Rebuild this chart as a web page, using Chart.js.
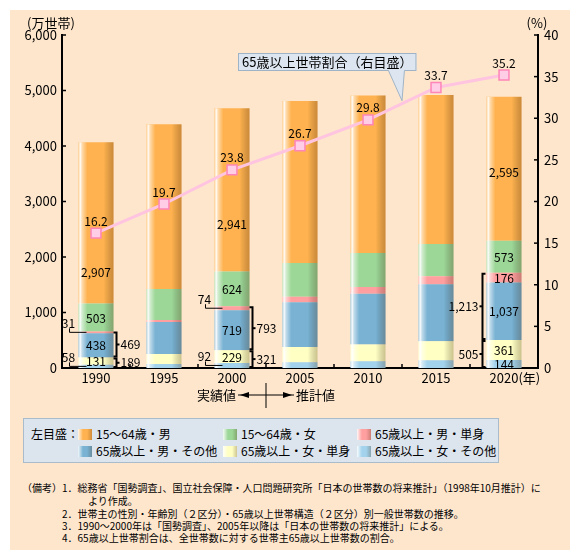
<!DOCTYPE html>
<html>
<head>
<meta charset="UTF-8">
<title>世帯数の推移</title>
<script src="https://cdn.jsdelivr.net/npm/chart.js@4/dist/chart.umd.min.js"></script>
<style>
  body { margin: 0; background: #fff; font-family: "Noto Sans CJK JP", sans-serif; }
  #panel { position: absolute; left: 10px; top: 10px; width: 560px; height: 540px; background: #fee6cd; }
  #chartBox { position: absolute; left: 0; top: 0; width: 560px; height: 400px; }
  #legend { position: absolute; left: 13px; top: 408px; width: 476px; height: 45px; box-sizing: border-box;
            background: #dce4ee; border: 1px solid #a9bccb; font-size: 12px; }
  #legend span { position: absolute; white-space: nowrap; line-height: 14px; }
  #legend i { position: absolute; width: 14px; height: 11px; }
  .note { position: absolute; font-size: 10px; line-height: 12px; white-space: nowrap; color: #000; }
</style>
</head>
<body>
<div id="panel">
  <div id="chartBox"><canvas id="myChart" width="560" height="400"></canvas></div>
  <div id="legend"><span style="left:7px;top:8px">左目盛：</span></div>
  <div class="note" style="left:12px;top:472px">（備考）1．総務省「国勢調査」、国立社会保障・人口問題研究所「日本の世帯数の将来推計」（1998年10月推計）に</div>
  <div class="note" style="left:78px;top:485px">より作成。</div>
  <div class="note" style="left:52px;top:498px">2．世帯主の性別・年齢別（２区分）・65歳以上世帯構造（２区分）別一般世帯数の推移。</div>
  <div class="note" style="left:52px;top:510px">3．1990～2000年は「国勢調査」、2005年以降は「日本の世帯数の将来推計」による。</div>
  <div class="note" style="left:52px;top:522px">4．65歳以上世帯割合は、全世帯数に対する世帯主65歳以上世帯数の割合。</div>
</div>

<script>
// ---- data (万世帯 / %) ----
const years = ['1990', '1995', '2000', '2005', '2010', '2015', '2020'];
const female65Other  = [58, 72, 92, 105, 120, 140, 144];     // 65歳以上・女・その他
const female65Single = [131, 180, 229, 275, 305, 340, 361];  // 65歳以上・女・単身
const male65Other    = [438, 577, 719, 805, 915, 1030, 1037];// 65歳以上・男・その他
const male65Single   = [31, 36, 74, 100, 120, 145, 176];     // 65歳以上・男・単身
const female1564     = [503, 558, 624, 605, 610, 580, 573];  // 15～64歳・女
const male1564       = [2907, 2967, 2941, 2920, 2840, 2685, 2595]; // 15～64歳・男
const share65        = [16.2, 19.7, 23.8, 26.7, 29.8, 33.7, 35.2]; // 65歳以上世帯割合（右目盛）

const seriesNames = ['65歳以上・女・その他', '65歳以上・女・単身', '65歳以上・男・その他',
                     '65歳以上・男・単身', '15～64歳・女', '15～64歳・男'];
const seriesColors = ['#a3d3ec', '#ffffc3', '#79b2d3', '#ff9f9f', '#9dd797', '#ffb24f'];
const labelledYears = ['1990', '2000', '2020'];
const firstForecast = '2005';
const bracketGroups = [[0, 1], [2, 3]];

const barData = [female65Other, female65Single, male65Other, male65Single, female1564, male1564];
const LINE = barData.length;
const FONT = '"Noto Sans CJK JP", "Noto Sans", sans-serif';
const fmt = v => v.toLocaleString('en-US');

// legend (HTML, top series first)
(function () {
  const lg = document.getElementById('legend');
  const cols = [54, 199, 333];
  barData.map((_, k) => k).reverse().forEach((k, n) => {
    const left = cols[n % 3], top = n < 3 ? 9 : 26;
    const sw = document.createElement('i');
    sw.style.left = left + 'px'; sw.style.top = (top + 1) + 'px';
    sw.style.background = 'linear-gradient(to right, rgba(255,255,255,0.9), rgba(255,255,255,0) 35%, rgba(0,0,0,0) 65%, rgba(60,30,0,0.25)), ' + seriesColors[k];
    lg.appendChild(sw);
    const tx = document.createElement('span');
    tx.textContent = seriesNames[k];
    tx.style.left = (left + 18) + 'px'; tx.style.top = (top - 1) + 'px';
    lg.appendChild(tx);
  });
})();

function txt(ctx, s, x, y, size, align) {
  ctx.font = size + 'px ' + FONT;
  ctx.fillStyle = '#000';
  ctx.textAlign = align || 'center';
  ctx.textBaseline = 'middle';
  ctx.fillText(s, x, y);
}
function seg(ctx, pts) {
  ctx.beginPath();
  ctx.moveTo(pts[0][0], pts[0][1]);
  for (let i = 1; i < pts.length; i++) ctx.lineTo(pts[i][0], pts[i][1]);
  ctx.stroke();
}

const decor = {
  id: 'decor',
  beforeDatasetDraw(chart, args) {
    if (args.index !== LINE) return;
    // cylinder-like shading over each stacked column
    const ctx = chart.ctx;
    const bottomMeta = chart.getDatasetMeta(0), topMeta = chart.getDatasetMeta(LINE - 1);
    bottomMeta.data.forEach((bar, i) => {
      const l = bar.x - bar.width / 2, w = bar.width;
      const yTop = topMeta.data[i].y, yBot = bar.base;
      const g = ctx.createLinearGradient(l, 0, l + w, 0);
      g.addColorStop(0, 'rgba(255,255,255,0.4)');
      g.addColorStop(0.05, 'rgba(255,255,255,0.95)');
      g.addColorStop(0.1, 'rgba(255,255,255,0.55)');
      g.addColorStop(0.25, 'rgba(255,255,255,0)');
      g.addColorStop(0.72, 'rgba(0,0,0,0)');
      g.addColorStop(1, 'rgba(70,35,0,0.28)');
      ctx.save();
      ctx.fillStyle = g;
      ctx.fillRect(l, yTop, w, yBot - yTop);
      ctx.restore();
    });
  },
  afterDatasetsDraw(chart) {
    const ctx = chart.ctx, ca = chart.chartArea;
    const xs = chart.scales.x, ys = chart.scales.y, y2 = chart.scales.y2;
    const lineMeta = chart.getDatasetMeta(LINE);
    ctx.save();
    ctx.strokeStyle = '#000';

    // inward ticks
    ctx.lineWidth = 1.5;
    ys.ticks.forEach(t => { const p = ys.getPixelForValue(t.value); seg(ctx, [[ca.left, p], [ca.left + 4, p]]); });
    y2.ticks.forEach(t => { const p = y2.getPixelForValue(t.value); seg(ctx, [[ca.right - 4, p], [ca.right, p]]); });
    for (let i = 0; i < years.length - 1; i++) {
      const b = (xs.getPixelForValue(i) + xs.getPixelForValue(i + 1)) / 2;
      seg(ctx, [[b, ca.bottom], [b, ca.bottom - 4]]);
    }

    // unit labels
    txt(ctx, '(万世帯)', ca.left - 11, 13, 13);
    txt(ctx, '(%)', ca.right - 1, 13, 13);
    const lastX = xs.getPixelForValue(years.length - 1);
    ctx.font = '13px ' + FONT;
    txt(ctx, '(年)', lastX + ctx.measureText(years[years.length - 1]).width / 2, ca.bottom + 10, 13, 'left');

    // 実績値 / 推計値
    const fi = years.indexOf(firstForecast);
    const dx = (xs.getPixelForValue(fi - 1) + xs.getPixelForValue(fi)) / 2;
    const ay = ca.bottom + 27;
    ctx.lineWidth = 1;
    seg(ctx, [[dx, ca.bottom + 15], [dx, ca.bottom + 40]]);
    seg(ctx, [[dx - 28, ay], [dx + 28, ay]]);
    ctx.fillStyle = '#000';
    ctx.beginPath(); ctx.moveTo(dx - 26, ay); ctx.lineTo(dx - 17, ay - 3); ctx.lineTo(dx - 17, ay + 3); ctx.fill();
    ctx.beginPath(); ctx.moveTo(dx + 26, ay); ctx.lineTo(dx + 17, ay - 3); ctx.lineTo(dx + 17, ay + 3); ctx.fill();
    txt(ctx, '実績値', dx - 30, ay, 13, 'right');
    txt(ctx, '推計値', dx + 30, ay, 13, 'left');

    // share labels above the points
    lineMeta.data.forEach((p, i) => txt(ctx, share65[i].toFixed(1), p.x, p.y - 12, 12));

    // segment labels, leaders, brackets
    labelledYears.forEach(yr => {
      const i = years.indexOf(yr);
      const els = barData.map((_, k) => chart.getDatasetMeta(k).data[i]);
      const left = els[0].x - els[0].width / 2, right = els[0].x + els[0].width / 2;
      els.forEach((el, k) => {
        const v = barData[k][i], h = el.base - el.y;
        if (k === LINE - 1) {
          const upper = Math.max(el.y, lineMeta.data[i].y);
          txt(ctx, fmt(v), el.x, (el.base + upper) / 2 + 4, 12);
        } else if (h >= 7) {
          txt(ctx, fmt(v), el.x, (el.y + el.base) / 2 + 0.5, 12);
        } else {
          const my = (el.y + el.base) / 2, lx = left - 10, ly = my - 9;
          ctx.lineWidth = 1;
          seg(ctx, [[lx + 1, ly + 5], [lx + 1, my], [left + 8, my]]);
          txt(ctx, fmt(v), lx, ly, 12);
        }
      });
      const forecast = i >= fi;
      bracketGroups.forEach(g => {
        const y1 = els[g[g.length - 1]].y, yb = els[g[0]].base;
        const sum = g.reduce((s, k) => s + barData[k][i], 0);
        const bx = forecast ? left - 4 : right + 3;
        const tab = forecast ? 3 : -3;
        const ym = (y1 + yb) / 2;
        ctx.lineWidth = 2;
        seg(ctx, [[bx + tab, y1 + 1], [bx, y1 + 1], [bx, yb - 1], [bx + tab, yb - 1]]);
        seg(ctx, [[bx, ym], [bx - tab, ym]]);
        if (forecast) txt(ctx, fmt(sum), bx - 4, ym, 12, 'right');
        else txt(ctx, fmt(sum), bx + 4, ym, 12, 'left');
      });
    });

    // callout for the line
    const a = lineMeta.data[4], b = lineMeta.data[5];
    const tipX = (a.x + b.x) / 2, tipY = (a.y + b.y) / 2 - 3;
    const label = '65歳以上世帯割合（右目盛）';
    ctx.font = '13px ' + FONT;
    const bw = ctx.measureText(label).width + 8, bh = 18, bl = 228, bt = 43;
    ctx.fillStyle = '#dde6f0';
    ctx.strokeStyle = '#9fb3c6';
    ctx.lineWidth = 1;
    ctx.fillRect(bl, bt, bw, bh);
    ctx.strokeRect(bl + 0.5, bt + 0.5, bw - 1, bh - 1);
    const p1 = [bl + bw - 28, bt + bh - 1], p2 = [bl + bw - 12, bt + bh - 1];
    ctx.beginPath(); ctx.moveTo(p1[0], p1[1]); ctx.lineTo(tipX, tipY); ctx.lineTo(p2[0], p2[1]); ctx.closePath();
    ctx.fill();
    seg(ctx, [[p1[0], p1[1] + 0.5], [tipX, tipY], [p2[0], p2[1] + 0.5]]);
    txt(ctx, label, bl + bw / 2, bt + bh / 2 + 0.5, 13);
    ctx.restore();
  }
};

const datasets = barData.map((d, k) => ({
  type: 'bar', label: seriesNames[k], data: d, backgroundColor: seriesColors[k],
  borderWidth: 0, yAxisID: 'y', order: 1, categoryPercentage: 1, barPercentage: 0.515
}));
datasets.push({
  type: 'line', label: '65歳以上世帯割合（右目盛）', data: share65, yAxisID: 'y2', order: 0,
  borderColor: '#ffc4e0', borderWidth: 3, tension: 0,
  pointStyle: 'rect', pointRadius: 7, pointBackgroundColor: '#ffcde6',
  pointBorderColor: '#ff85b8', pointBorderWidth: 1.5
});

Chart.defaults.font.family = FONT;
Chart.defaults.color = '#000';

new Chart(document.getElementById('myChart'), {
  data: { labels: years, datasets: datasets },
  options: {
    responsive: false,
    animation: false,
    layout: { padding: { top: 25, left: 0, right: 0, bottom: 0 } },
    plugins: { legend: { display: false }, tooltip: { enabled: false } },
    scales: {
      x: {
        stacked: true,
        grid: { display: false, drawTicks: false },
        border: { color: '#000', width: 2 },
        ticks: { font: { size: 13 }, color: '#000', padding: 2 },
        afterFit(s) { s.height = 42; }
      },
      y: {
        stacked: true, position: 'left', min: 0, max: 6000,
        grid: { display: false, drawTicks: false },
        border: { color: '#000', width: 2 },
        ticks: { stepSize: 1000, font: { size: 13 }, color: '#000', padding: 5, callback: v => fmt(v) },
        afterFit(s) { s.width = 52; }
      },
      y2: {
        position: 'right', min: 0, max: 40,
        grid: { display: false, drawTicks: false },
        border: { color: '#000', width: 2 },
        ticks: { stepSize: 5, font: { size: 13 }, color: '#000', padding: 6 },
        afterFit(s) { s.width = 32; }
      }
    }
  },
  plugins: [decor]
});
</script>
</body>
</html>
